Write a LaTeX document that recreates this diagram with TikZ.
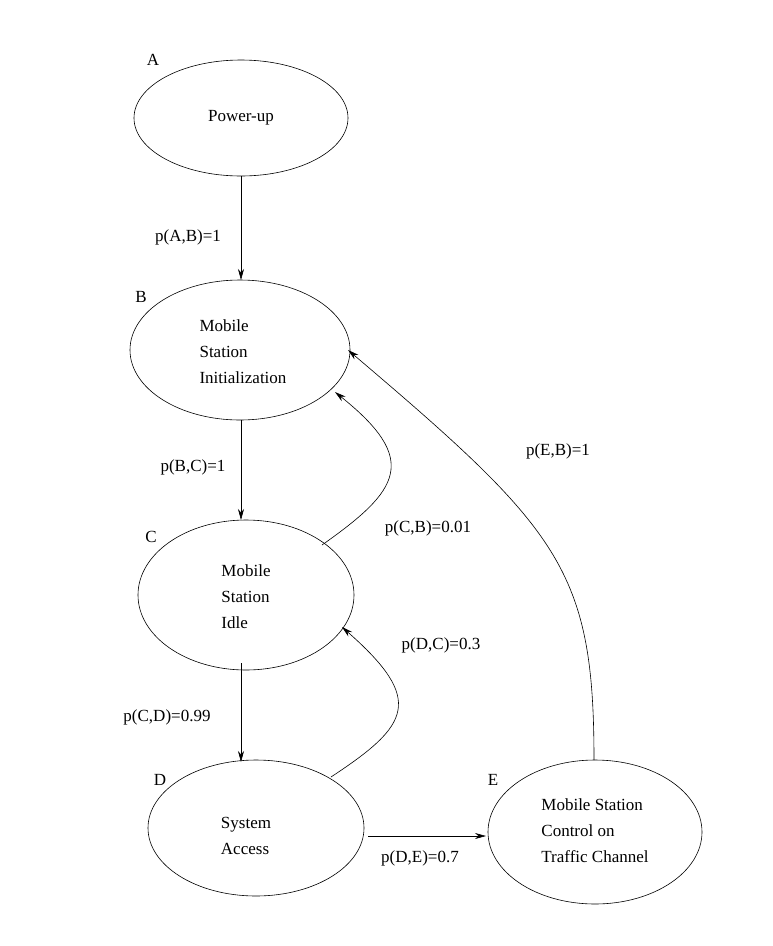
\documentclass[tikz,border=0pt]{standalone}
\usepackage{fontspec}
\setmainfont{Liberation Serif}
\usetikzlibrary{arrows.meta}
\begin{document}
\begin{tikzpicture}[x=1pt,y=-1pt,
  st/.style={draw,ellipse,minimum width=#1},
  lab/.style={font=\fontsize{17}{21}\selectfont},
  txt/.style={font=\fontsize{17}{26}\selectfont,align=left},
  arr/.style={-{Stealth[length=11pt,width=6pt]},line width=0.6pt}]
\useasboundingbox (0,0) rectangle (772,946);
\draw[line width=0.6pt] (241,118) ellipse [x radius=107,y radius=58];
\node[txt] (A) at (241,118) {Power-up};
\coordinate (Ab) at (241,176);
\draw[line width=0.6pt] (240,350) ellipse [x radius=110,y radius=70];
\node[txt] (B) at (243,352) {Mobile\\Station\\Initialization};
\coordinate (Bt) at (241,280); \coordinate (Bb) at (241,420);
\draw[line width=0.6pt] (246,595) ellipse [x radius=108,y radius=75];
\node[txt] (C) at (246,597) {Mobile\\Station\\Idle};
\coordinate (Ct) at (241,520); \coordinate (Cb) at (241,663);
\draw[line width=0.6pt] (256,828) ellipse [x radius=108,y radius=68];
\node[txt] (D) at (246,836) {System\\Access};
\coordinate (Dt) at (241,762); \coordinate (Dr) at (368,836);
\draw[line width=0.6pt] (595,832) ellipse [x radius=107,y radius=72];
\node[txt] (E) at (595,831) {Mobile Station\\Control on\\Traffic Channel};
\coordinate (El) at (486,836); \coordinate (Et) at (594,760);
\node[lab] (la) at (153,60) {A};
\node[lab] (lb) at (141,297) {B};
\node[lab] (lc) at (151,537) {C};
\node[lab] (ld) at (160,780) {D};
\node[lab] (le) at (493,780) {E};
\draw[arr] (Ab) -- (Bt);
\draw[arr] (Bb) -- (Ct);
\draw[arr] (Cb) -- (Dt);
\draw[arr] (Dr) -- (El);
\coordinate (c1) at (322,545); \coordinate (c2) at (335,392);
\draw[arr] (c1) .. controls (400,490) and (420,460) .. (c2);
\coordinate (d1) at (331,777); \coordinate (d2) at (342,627);
\draw[arr] (d1) .. controls (410,725) and (425,700) .. (d2);
\coordinate (e2) at (348,350);
\draw[arr] (Et) .. controls (594,570) and (560,530) .. (e2);
\node[lab] (pab) at (188,237) {p(A,B)=1};
\node[lab] (pbc) at (193,467) {p(B,C)=1};
\node[lab] (pcd) at (167,717) {p(C,D)=0.99};
\node[lab] (pde) at (420,858) {p(D,E)=0.7};
\node[lab] (pcb) at (428,528) {p(C,B)=0.01};
\node[lab] (pdc) at (441,645) {p(D,C)=0.3};
\node[lab] (peb) at (558,451) {p(E,B)=1};
\end{tikzpicture}
\end{document}
